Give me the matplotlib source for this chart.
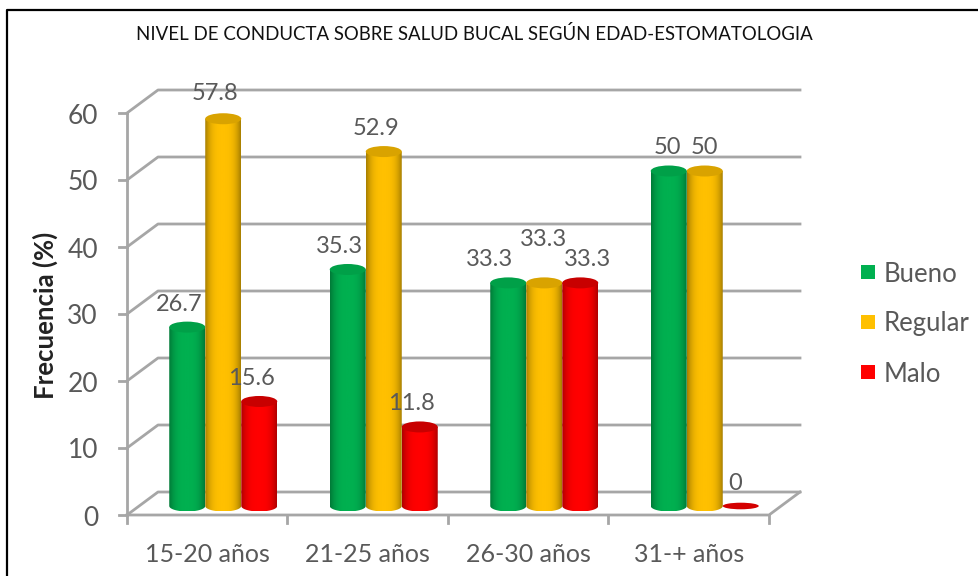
import numpy as np
import matplotlib
matplotlib.use("Agg")
import matplotlib.pyplot as plt
from matplotlib.colors import LinearSegmentedColormap
from matplotlib.patches import Ellipse, Rectangle, PathPatch
from matplotlib.path import Path

# data
categorias = ["15-20 años", "21-25 años", "26-30 años", "31-+ años"]
bueno = [26.7, 35.3, 33.3, 50]
regular = [57.8, 52.9, 33.3, 50]
malo = [15.6, 11.8, 33.3, 0]
series = ["Bueno", "Regular", "Malo"]
y_ticks = [0, 10, 20, 30, 40, 50, 60]

W, H = 979, 576
GRIS = "#595959"
LINEA = "#a6a6a6"

plt.rcParams["font.family"] = ["Lato", "DejaVu Sans"]

fig = plt.figure(figsize=(W / 100, H / 100), dpi=100)

# frente del grafico: x 127-769 px, y 515-113 px
ax = fig.add_axes([127 / W, 1 - 515 / H, (769 - 127) / W, (515 - 113) / H])
ax.set_xlim(0, 4)
ax.set_ylim(0, 60)
ax.axis("off")

px_x = 4 / (769 - 127)
px_y = 60 / (515 - 113)
dx = 31 * px_x   # profundidad
dy = 23 * px_y

# paredes y rejilla
for t in y_ticks:
    ax.plot([0, dx, 4 + dx], [t, t + dy, t + dy], color=LINEA, lw=2, clip_on=False, zorder=1)
    ax.plot([-8 * px_x, 0], [t, t], color=LINEA, lw=2, clip_on=False, zorder=1)
    ax.text(-29 * px_x, t - 3 * px_y, str(t), ha="right", va="center", fontsize=19, color=GRIS)
ax.plot([0, 0], [0, 60], color=LINEA, lw=2, clip_on=False, zorder=1)
ax.plot([0, 4, 4 + dx], [0, 0, dy], color=LINEA, lw=2, clip_on=False, zorder=1)
for i in range(5):
    ax.plot([i, i], [0, -8 * px_y], color=LINEA, lw=2, clip_on=False, zorder=1)
for i, c in enumerate(categorias):
    ax.text(i + 0.5, -40 * px_y, c, ha="center", va="center", fontsize=18, color=GRIS)

# cilindros
colores = {
    "Bueno": ("#00B050", "#007a38", "#00a048"),
    "Regular": ("#FFC000", "#a87f00", "#d9a300"),
    "Malo": ("#FF0000", "#b00000", "#c80000"),
}
valores = [bueno, regular, malo]
ancho = 36 * px_x
alto_elipse = 11 * px_y
base = 9 * px_y
sep = [-36 * px_x, 0, 36 * px_x]
centro = 16 * px_x

# desplazamiento de cada etiqueta respecto a su barra (px)
ajuste = [[-8, -8, -8], [-8, -8, -8], [-19, -1, 7], [-1, 0, -6]]
extra_y = [[0, 2, 0], [0, 0, 0], [0, 20, 0], [0, 0, 0]]

grad = np.abs(np.linspace(-1, 1, 64)) ** 3
grad = grad.reshape(1, -1)

for s, nombre in enumerate(series):
    claro, oscuro, tapa = colores[nombre]
    cmap = LinearSegmentedColormap.from_list(nombre, [claro, oscuro])
    xs = np.arange(4) + 0.5 + centro + sep[s]
    bars = ax.bar(xs, valores[s], ancho, bottom=base, color=claro, zorder=3 + s, clip_on=False)
    for i, (rect, v) in enumerate(zip(bars, valores[s])):
        x0 = xs[i] - ancho / 2
        top = base + v
        low = base - alto_elipse / 2
        if v > 0:
            # cuerpo con degradado, recortado a cuerpo + elipse inferior
            rect.set_visible(False)
            im = ax.imshow(grad, cmap=cmap, aspect="auto", vmin=0, vmax=1,
                           extent=[x0, x0 + ancho, low, top], zorder=3 + s, clip_on=True)
            th = np.linspace(np.pi, 2 * np.pi, 30)
            cx = x0 + ancho / 2 + ancho / 2 * np.cos(th)
            cy = base + alto_elipse / 2 * np.sin(th)
            verts = list(zip(cx, cy)) + [(x0 + ancho, top), (x0, top), (cx[0], cy[0])]
            clip = PathPatch(Path(verts), transform=ax.transData, fc="none", ec="none")
            ax.add_patch(clip)
            clip.set_clip_on(False)
            im.set_clip_path(clip)
            ax.add_patch(Ellipse((xs[i], top), ancho, alto_elipse, fc=tapa, ec="none",
                                 zorder=3 + s, clip_on=False))
        else:
            ax.add_patch(Ellipse((xs[i], top), ancho, alto_elipse * 0.6, fc="#d40000", ec="none",
                                 zorder=3 + s, clip_on=False))
        ax.text(xs[i] + ajuste[i][s] * px_x, top + (23 + extra_y[i][s]) * px_y, f"{v:g}",
                ha="center", va="center", fontsize=17, color=GRIS, zorder=10)
ax.set_xlim(0, 4)
ax.set_ylim(0, 60)

# titulo y eje
fig.text(474 / W, 1 - 34 / H, "NIVEL DE CONDUCTA SOBRE SALUD BUCAL SEGÚN EDAD-ESTOMATOLOGIA",
         ha="center", va="center", fontsize=13.4, color="#111111")
fig.text(45 / W, 1 - 315 / H, "Frecuencia (%)", rotation=90, ha="center", va="center",
         fontsize=18.5, fontweight="bold", color="#222222")

# leyenda
for nombre, yy in zip(series, [272, 322, 372]):
    fig.add_artist(Rectangle((861 / W, 1 - (yy + 7) / H), 14 / W, 14 / H, fc=colores[nombre][0],
                             ec="none", transform=fig.transFigure))
    fig.text(884 / W, 1 - (yy + 2) / H, nombre, ha="left", va="center", fontsize=18.5, color=GRIS)

# marco
fig.add_artist(plt.Line2D([7.5 / W, 7.5 / W, 1], [0, 1 - 9.5 / H, 1 - 9.5 / H], color="black", lw=1.6))

fig.savefig("out.png", dpi=100)
